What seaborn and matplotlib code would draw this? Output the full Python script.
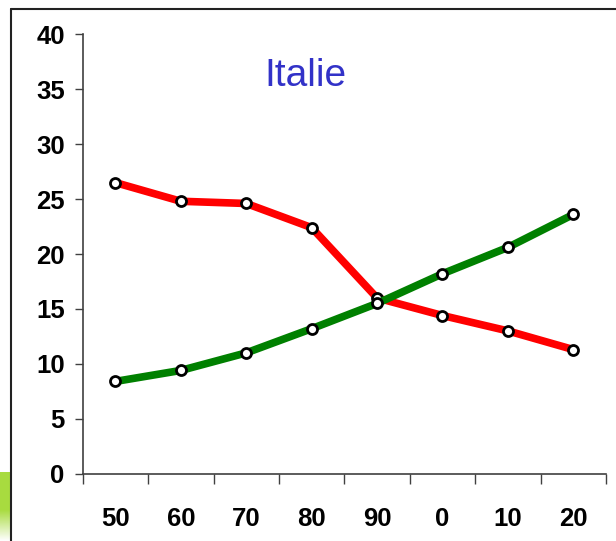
import matplotlib
matplotlib.use("Agg")
import matplotlib.pyplot as plt
from matplotlib.lines import Line2D
import numpy as np
import pandas as pd
import seaborn as sns

# Decades on the horizontal axis and the two series
decades = ["50", "60", "70", "80", "90", "0", "10", "20"]
red_values = [26.5, 24.8, 24.6, 22.4, 16.0, 14.4, 13.0, 11.3]
green_values = [8.4, 9.4, 11.0, 13.2, 15.5, 18.2, 20.6, 23.6]
y_ticks = [0, 5, 10, 15, 20, 25, 30, 35, 40]
title_text = "Italie"

sns.set_theme(style="white")
plt.rcParams["font.family"] = ["Liberation Sans", "DejaVu Sans"]

df = pd.DataFrame({
    "decade": decades * 2,
    "pos": list(range(len(decades))) * 2,
    "value": red_values + green_values,
    "series": ["red"] * len(decades) + ["green"] * len(decades),
})

W, H, DPI = 616, 541, 100
fig = plt.figure(figsize=(W / DPI, H / DPI), dpi=DPI)
fig.patch.set_facecolor("white")

x0, x1 = 82.7, 606.0
y0, y1 = 473.7, 34.3
ax = fig.add_axes([x0 / W, 1 - y0 / H, (x1 - x0) / W, (y0 - y1) / H])

sns.lineplot(
    data=df, x="pos", y="value", hue="series",
    palette={"red": "#ff0000", "green": "#008000"},
    linewidth=5.5, marker="o", markersize=7.2,
    markerfacecolor="white", markeredgecolor="black", markeredgewidth=2.0,
    legend=False, ax=ax, sort=False,
)

ax.set_xlim(-0.5, len(decades) - 0.5)
ax.set_ylim(0, 40)
ax.set_xlabel("")
ax.set_ylabel("")

# category ticks: marks sit between categories, labels at centres
ax.set_xticks(np.arange(len(decades) + 1) - 0.5)
ax.set_xticklabels([])
ax.set_xticks(range(len(decades)), minor=True)
ax.set_xticklabels(decades, minor=True, fontsize=18.5, fontweight="bold", color="black")
ax.tick_params(axis="x", which="major", direction="out", length=7, width=1, color="#404040", bottom=True)
ax.tick_params(axis="x", which="minor", length=0, pad=24)

ax.set_yticks(y_ticks)
ax.set_yticklabels([str(v) for v in y_ticks], fontsize=18.5, fontweight="bold", color="black")
ax.tick_params(axis="y", direction="out", length=6, width=1, color="#404040", left=True, pad=7)

for side in ["top", "right"]:
    ax.spines[side].set_visible(False)
for side in ["left", "bottom"]:
    ax.spines[side].set_color("#404040")
    ax.spines[side].set_linewidth(1.2)

ax.text(305 / W, 1 - 76 / H, title_text, transform=fig.transFigure, fontsize=28,
        color="#3232c8", ha="center", va="center")

# slide frame: green gradient strip at bottom-left and the outer border
grad_ax = fig.add_axes([0, 0, 10 / W, (H - 472) / H])
grad = np.linspace(0, 1, 100).reshape(-1, 1)
grad = np.clip(grad / 0.45, 0, 1)
white = np.array([1.0, 1.0, 1.0])
green = np.array([0.66, 0.86, 0.25])
img = white + (green - white) * grad[..., None]
grad_ax.imshow(img[::-1], aspect="auto", extent=[0, 1, 0, 1])
grad_ax.axis("off")

fig.add_artist(Line2D([10.5 / W, 10.5 / W], [0, 1 - 9 / H], color="#222222", linewidth=1.5))
fig.add_artist(Line2D([10.5 / W, 1], [1 - 9 / H, 1 - 9 / H], color="#222222", linewidth=1.5))

fig.savefig("out.png", dpi=DPI, facecolor="white")
